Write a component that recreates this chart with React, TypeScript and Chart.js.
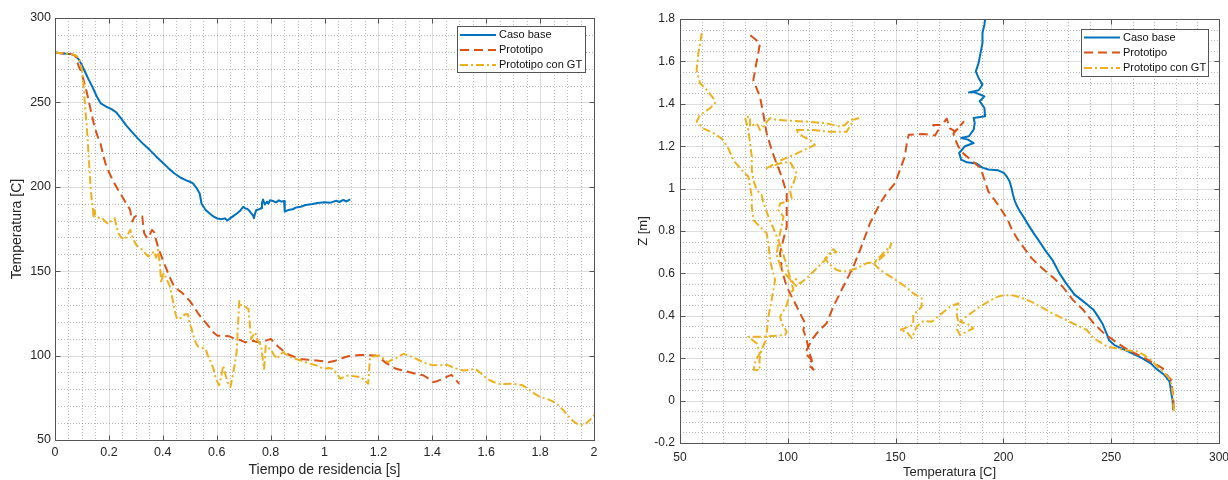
import React, { useEffect, useRef } from 'react';
import { Chart, registerables } from 'chart.js';

Chart.register(...registerables);

const FONT = "'Liberation Sans', Arial, Helvetica, sans-serif";
Chart.defaults.font.family = FONT;

// ---------- series meta ----------
const seriesNames = ['Caso base', 'Prototipo', 'Prototipo con GT'];
const seriesColors = ['#0072BD', '#D95319', '#EDB120'];
const seriesDashes = [[], [9, 5], [8, 3, 2, 3]];

// ---------- tick labels ----------
const leftXTickLabels = ['0', '0.2', '0.4', '0.6', '0.8', '1', '1.2', '1.4', '1.6', '1.8', '2'];
const leftYTickLabels = ['50', '100', '150', '200', '250', '300'];
const rightXTickLabels = ['50', '100', '150', '200', '250', '300'];
const rightYTickLabels = ['-0.2', '0', '0.2', '0.4', '0.6', '0.8', '1', '1.2', '1.4', '1.6', '1.8'];

// ---------- left chart: Temperatura vs Tiempo de residencia ----------
const leftBaseTime = [
  0, 0.03, 0.06, 0.074, 0.088,
  0.1, 0.11, 0.125, 0.14, 0.155,
  0.17, 0.19, 0.21, 0.228, 0.245,
  0.265, 0.285, 0.309, 0.33, 0.353,
  0.375, 0.397, 0.42, 0.441, 0.465,
  0.485, 0.5, 0.512, 0.522, 0.53,
  0.537, 0.544, 0.552, 0.559, 0.575,
  0.588, 0.603, 0.618, 0.63, 0.64,
  0.647, 0.66, 0.676, 0.688, 0.699,
  0.706, 0.713, 0.72, 0.728, 0.735,
  0.738, 0.742, 0.747, 0.755, 0.765,
  0.768, 0.772, 0.778, 0.787, 0.792,
  0.798, 0.809, 0.82, 0.831, 0.84,
  0.85, 0.852, 0.853, 0.865, 0.882,
  0.895, 0.912, 0.93, 0.956, 0.975,
  1.0, 1.02, 1.044, 1.055, 1.07,
  1.08, 1.096,
];
const leftBaseTemp = [
  279.5, 279, 278.6, 278, 275.5,
  272, 268.6, 263.5, 258.8, 253.5,
  249.4, 247.5, 246, 244, 240.5,
  236.3, 232.5, 228.4, 225, 221.6,
  218, 214.7, 211.2, 208.2, 205.5,
  204, 203, 202, 200, 198,
  196, 189.8, 188, 186.3, 184,
  182.4, 181.2, 180.8, 181.3, 180,
  181, 182.5, 184.3, 186, 188.2,
  187.2, 187, 186, 184.3, 183,
  181.4, 184, 186.3, 186.5, 187.3,
  190.5, 192.5, 189.5, 191.2, 190,
  192, 191.6, 190.8, 192, 191.2,
  191.6, 188, 185.3, 186.2, 186.7,
  187.8, 188.2, 189.2, 189.8, 190.4,
  190.8, 190.5, 191.8, 191, 192.2,
  191.3, 192.5,
];

const leftProtoTime = [
  0, 0.03, 0.06, 0.075, 0.081,
  0.088, 0.096, 0.103, 0.11, 0.118,
  0.125, 0.136, 0.147, 0.158, 0.169,
  0.18, 0.191, 0.205, 0.221, 0.235,
  0.25, 0.265, 0.279, 0.283, 0.287,
  0.294, 0.301, 0.315, 0.324, 0.327,
  0.331, 0.338, 0.346, 0.353, 0.36,
  0.368, 0.375, 0.383, 0.39, 0.397,
  0.404, 0.412, 0.419, 0.43, 0.441,
  0.456, 0.471, 0.485, 0.5, 0.515,
  0.529, 0.545, 0.559, 0.575, 0.588,
  0.603, 0.625, 0.647, 0.66, 0.676,
  0.69, 0.706, 0.72, 0.735, 0.75,
  0.765, 0.785, 0.801, 0.815, 0.831,
  0.845, 0.86, 0.885, 0.912, 0.94,
  0.971, 0.995, 1.015, 1.04, 1.059,
  1.075, 1.088, 1.11, 1.132, 1.16,
  1.191, 1.21, 1.228, 1.245, 1.265,
  1.295, 1.324, 1.345, 1.368, 1.385,
  1.404, 1.42, 1.441, 1.455, 1.471,
  1.485, 1.5,
];
const leftProtoTemp = [
  279.5, 279, 278.6, 277.8, 274.5,
  271.5, 268.6, 265, 260.8, 256,
  251, 243, 235.3, 230, 225.5,
  218, 211.8, 207, 202, 198,
  194, 190, 186.3, 182, 179.4,
  182, 182.7, 182.5, 182.4, 177,
  172.5, 170.5, 169.6, 172, 174.5,
  173, 168.6, 164, 160.8, 158,
  154.9, 152, 149, 145, 141.2,
  139, 137.3, 135, 132.4, 129,
  125.5, 122, 119.6, 116.5, 113.7,
  111.8, 111.6, 111.4, 110.5, 109.8,
  109, 107.8, 108.5, 108.8, 108,
  107.8, 109, 109.8, 107.5, 104.9,
  103, 101, 99.5, 98, 97.5,
  97.1, 96.6, 96.1, 97, 98,
  99, 99.6, 100, 100.4, 100.2,
  100, 98, 95.7, 94, 92.2,
  91, 89.8, 89, 88.2, 86.5,
  84.3, 85, 86.3, 87.5, 88.6,
  86, 83.3,
];

const leftGtTime = [
  0, 0.03, 0.06, 0.075, 0.088,
  0.096, 0.103, 0.107, 0.11, 0.114,
  0.118, 0.122, 0.125, 0.129, 0.132,
  0.136, 0.14, 0.143, 0.147, 0.15,
  0.154, 0.165, 0.176, 0.188, 0.199,
  0.21, 0.221, 0.228, 0.235, 0.246,
  0.257, 0.268, 0.279, 0.29, 0.301,
  0.313, 0.324, 0.335, 0.346, 0.357,
  0.368, 0.375, 0.382, 0.386, 0.39,
  0.394, 0.399, 0.404, 0.415, 0.426,
  0.433, 0.441, 0.447, 0.453, 0.462,
  0.471, 0.482, 0.493, 0.5, 0.507,
  0.515, 0.522, 0.53, 0.537, 0.548,
  0.559, 0.567, 0.574, 0.581, 0.588,
  0.594, 0.6, 0.609, 0.617, 0.624,
  0.632, 0.64, 0.651, 0.657, 0.662,
  0.668, 0.674, 0.679, 0.684, 0.69,
  0.699, 0.709, 0.718, 0.723, 0.728,
  0.735, 0.743, 0.752, 0.765, 0.77,
  0.776, 0.779, 0.782, 0.79, 0.801,
  0.812, 0.824, 0.835, 0.846, 0.86,
  0.875, 0.89, 0.912, 0.94, 0.971,
  0.985, 1.0, 1.015, 1.029, 1.045,
  1.059, 1.075, 1.088, 1.11, 1.132,
  1.148, 1.162, 1.165, 1.169, 1.185,
  1.206, 1.22, 1.235, 1.25, 1.265,
  1.28, 1.294, 1.32, 1.353, 1.375,
  1.397, 1.425, 1.456, 1.485, 1.515,
  1.535, 1.559, 1.58, 1.603, 1.625,
  1.647, 1.67, 1.691, 1.715, 1.735,
  1.758, 1.779, 1.8, 1.824, 1.845,
  1.868, 1.89, 1.912, 1.93, 1.949,
  1.96, 1.971, 1.985, 2.0,
];
const leftGtTemp = [
  279.5, 279, 278.6, 278, 276.5,
  272, 266.7, 258, 251, 243,
  235.3, 226, 217.6, 208, 200,
  193, 188.2, 181.4, 186.3, 183,
  182.4, 181.5, 181.4, 179, 178,
  180, 181.4, 177, 172.5, 170,
  168.6, 171, 174.5, 169, 165.7,
  164, 162.7, 160.5, 158.8, 160,
  161.8, 158, 162.7, 158, 152.9,
  143.1, 147, 149, 145, 141.2,
  136, 129.4, 125, 121.6, 122,
  122.5, 124.5, 124.5, 119, 115.7,
  111, 107.8, 105.5, 104.9, 104.5,
  103.9, 100, 98, 95, 92.2,
  88, 85.3, 82.4, 88, 94.1,
  89, 84.3, 81.4, 86, 90.2,
  96, 102, 118, 132.4, 130,
  129.4, 128.5, 127.5, 118, 109.8,
  112, 113.7, 109, 105.9, 99,
  92.2, 99, 105.9, 104.5, 103.9,
  100.5, 98, 100.5, 102, 100.5,
  99, 98.2, 97.1, 95.5, 94.1,
  93, 92.2, 92.6, 92.2, 89.5,
  86.3, 87.5, 88.2, 87.8, 87.3,
  85.5, 83.3, 90, 99, 99.6,
  100, 98, 96.1, 97.5, 98.4,
  100, 101, 99.5, 97.1, 95.5,
  94.5, 94.2, 94.5, 92.5, 91.2,
  91.5, 92.2, 89.5, 86.3, 84.5,
  83.3, 83.2, 83.3, 83, 82.4,
  80, 77.5, 75.5, 74.5, 73,
  70.6, 67, 62.7, 60.2, 58.8,
  59, 59.8, 62, 64.7,
];

// ---------- right chart: Z vs Temperatura ----------
const rightBaseTemp = [
  278.7, 278.5, 277.9, 277.1, 274.7,
  270.7, 268.3, 264.3, 260, 256.3,
  251.5, 249, 248.3, 247.3, 245.9,
  244, 241.9, 239, 236.3, 233,
  229.1, 226, 222.7, 220, 216.2,
  214, 211.5, 209.2, 207.5, 206.2,
  205.2, 204.5, 203.8, 202.9, 201.5,
  200.2, 197.5, 193, 190, 187.6,
  183.1, 180.4, 179.5, 182.2, 186.2,
  183.6, 180.4, 184, 186.2, 186.7,
  186.2, 191.5, 191.2, 189, 191.2,
  186.7, 184, 188.5, 190.3, 188.5,
  187.2, 188.5, 189.4, 190.3, 190.3,
  191.2, 191.5,
];
const rightBaseZ = [
  -0.044, 0.0, 0.034, 0.089, 0.121,
  0.152, 0.176, 0.2, 0.222, 0.239,
  0.262, 0.285, 0.305, 0.33, 0.364,
  0.395, 0.427, 0.452, 0.474, 0.5,
  0.553, 0.6, 0.664, 0.7, 0.758,
  0.79, 0.83, 0.869, 0.895, 0.92,
  0.945, 0.97, 1.0, 1.034, 1.058,
  1.074, 1.086, 1.09, 1.1, 1.118,
  1.124, 1.137, 1.168, 1.2, 1.215,
  1.231, 1.239, 1.247, 1.278, 1.309,
  1.333, 1.341, 1.38, 1.412, 1.435,
  1.454, 1.454, 1.464, 1.49, 1.522,
  1.553, 1.592, 1.64, 1.687, 1.734,
  1.773, 1.8,
];

const rightProtoTemp = [
  279, 278.7, 277.6, 275.5, 273.9,
  271, 267.5, 262.5, 257.8, 253.1,
  246.7, 241.9, 237.1, 232.3, 227.5,
  222.7, 218, 213.1, 206.8, 204,
  202, 197.5, 193, 191.2, 189.4,
  184.9, 181.5, 179, 177.7, 176.8,
  179.5, 181.5, 177.6, 175.2, 173.7,
  171.4, 167.5, 169.8, 168.3, 163,
  156.1, 155.2, 154.3, 152, 149.8,
  146, 142.8, 138.1, 133.5, 130.4,
  125.7, 121.1, 118, 113.4, 111.1,
  108, 110.4, 111.8, 110.5, 112,
  110.3, 111.1, 109.6, 108.8, 107.2,
  108, 105.7, 102.6, 99.5, 97.2,
  96.4, 97.9, 99.5, 99.5, 99.5,
  97.2, 94.8, 92.5, 90.2, 88.6,
  87.1, 84, 84.8, 86.3, 87.1,
  82.5,
];
const rightProtoZ = [
  -0.04, 0.03, 0.1, 0.125, 0.152,
  0.17, 0.19, 0.215, 0.239, 0.27,
  0.317, 0.364, 0.427, 0.474, 0.537,
  0.584, 0.624, 0.671, 0.758, 0.805,
  0.853, 0.924, 0.987, 1.042, 1.097,
  1.136, 1.165, 1.2, 1.231, 1.26,
  1.29, 1.315, 1.27, 1.284, 1.33,
  1.3, 1.3, 1.276, 1.25, 1.258,
  1.254, 1.215, 1.152, 1.088, 1.026,
  0.98, 0.931, 0.836, 0.71, 0.632,
  0.537, 0.443, 0.365, 0.317, 0.286,
  0.223, 0.2, 0.176, 0.16, 0.146,
  0.17, 0.192, 0.239, 0.286, 0.333,
  0.365, 0.412, 0.475, 0.537, 0.616,
  0.695, 0.758, 0.82, 0.9, 0.978,
  1.056, 1.119, 1.182, 1.261, 1.355,
  1.433, 1.512, 1.559, 1.638, 1.685,
  1.725,
];

const rightGtTemp = [
  279, 278.6, 277.6, 276.4, 272,
  267.5, 262.7, 256.3, 248.3, 241.9,
  238.7, 230.7, 222.7, 213.1, 207,
  203.5, 199, 195.5, 189.1, 182.7,
  179.9, 184.5, 186, 179.9, 178.5,
  179.1, 178.3, 179.1, 175.2, 170.6,
  166.7, 162.8, 159.8, 157.5, 155.2,
  152, 158.2, 158.2, 162.1, 162.1,
  158.2, 153.6, 148.9, 142.8, 139.7,
  144.3, 147.4, 148, 146.5, 141.2,
  136.6, 132, 129.6, 125.8, 122.7,
  118.8, 117.3, 121.1, 122.5, 119.5,
  117, 111.8, 108.8, 105.7, 103.5,
  102, 104, 97.2, 94.8, 95.6,
  96.4, 98, 95.6, 96.4, 99.5,
  101.8, 101, 102.6, 104.1, 101,
  96.4, 90.2, 96, 104, 112.6,
  110.3, 107.2, 103.4, 111.8, 119.6,
  127.3, 130.4, 132.7, 128.8, 126.5,
  124.2, 118, 108.8, 101, 94.8,
  91.7, 87.1, 85.6, 82.5, 82.5,
  80.1, 81.7, 82.5, 83.3, 83.3,
  84, 85.6, 87.9, 88.6, 91,
  93, 97, 100, 102.6, 101,
  99.5, 96.4, 97.2, 99.5, 98.7,
  88.6, 81.7, 85.6, 87.1, 85,
  84.2, 86.9, 86.9, 87.8, 89.6,
  90.2, 91, 92.5, 93.3, 94.1,
  91.7, 91, 90.2, 87.1, 84,
  83.3, 83.3, 82.5, 81.7, 78.6,
  74.7, 72.4, 69.3, 65.5, 60.8,
  57.7, 59.3, 63.9, 66.2, 65.5,
  62.4, 59.3, 57.7, 58.5, 60.1,
];
const rightGtZ = [
  -0.05, 0.03, 0.09, 0.112, 0.155,
  0.2, 0.231, 0.239, 0.254, 0.294,
  0.333, 0.372, 0.412, 0.466, 0.49,
  0.498, 0.495, 0.482, 0.443, 0.396,
  0.372, 0.357, 0.341, 0.309, 0.335,
  0.365, 0.412, 0.459, 0.443, 0.404,
  0.372, 0.375, 0.349, 0.294, 0.325,
  0.333, 0.357, 0.404, 0.443, 0.482,
  0.506, 0.545, 0.577, 0.616, 0.648,
  0.695, 0.726, 0.74, 0.7, 0.655,
  0.648, 0.624, 0.616, 0.608, 0.616,
  0.648, 0.671, 0.714, 0.7, 0.69,
  0.66, 0.608, 0.577, 0.553, 0.575,
  0.56, 0.54, 0.616, 0.687, 0.742,
  0.789, 0.867, 0.899, 0.93, 0.938,
  0.954, 0.993, 1.025, 1.072, 1.127,
  1.119, 1.096, 1.13, 1.165, 1.206,
  1.229, 1.245, 1.276, 1.276, 1.268,
  1.268, 1.324, 1.332, 1.324, 1.3,
  1.292, 1.308, 1.316, 1.32, 1.324,
  1.332, 1.276, 1.308, 1.292, 1.339,
  1.339, 1.276, 1.214, 1.15, 1.088,
  1.04, 0.993, 0.97, 0.938, 0.867,
  0.82, 0.72, 0.62, 0.522, 0.506,
  0.451, 0.396, 0.365, 0.325, 0.309,
  0.301, 0.301, 0.27, 0.223, 0.19,
  0.146, 0.143, 0.193, 0.24, 0.28,
  0.317, 0.396, 0.475, 0.522, 0.569,
  0.663, 0.742, 0.789, 0.82, 0.852,
  0.915, 0.962, 1.009, 1.056, 1.088,
  1.135, 1.19, 1.237, 1.261, 1.284,
  1.316, 1.347, 1.379, 1.402, 1.426,
  1.465, 1.497, 1.559, 1.638, 1.733,
];

// ---------- helpers ----------
const toPoints = (xs: number[], ys: number[]) =>
  xs.slice(0, Math.min(xs.length, ys.length)).map((x, i) => ({ x, y: ys[i] }));

const labelFor = (labels: string[], min: number, step: number) => (v: any) => {
  const k = Math.round((Number(v) - min) / step);
  return labels[k] !== undefined ? labels[k] : '';
};

const matlabAxesPlugin = {
  id: 'matlabAxes',
  beforeDatasetsDraw(chart: any, _args: any, o: any) {
    const { ctx, chartArea: a } = chart;
    const xs = chart.scales.x;
    const ys = chart.scales.y;
    ctx.save();
    ctx.lineWidth = 1;
    const vLine = (v: number) => {
      const X = Math.round(xs.getPixelForValue(v)) + 0.5;
      ctx.beginPath();
      ctx.moveTo(X, a.top);
      ctx.lineTo(X, a.bottom);
      ctx.stroke();
    };
    const hLine = (v: number) => {
      const Y = Math.round(ys.getPixelForValue(v)) + 0.5;
      ctx.beginPath();
      ctx.moveTo(a.left, Y);
      ctx.lineTo(a.right, Y);
      ctx.stroke();
    };
    const minorVals = (s: any, step: number, majorStep: number) => {
      const out: number[] = [];
      const n = Math.round((s.max - s.min) / step);
      for (let i = 1; i < n; i++) {
        const v = s.min + i * step;
        const r = (v - s.min) / majorStep;
        if (Math.abs(r - Math.round(r)) > 1e-6) out.push(v);
      }
      return out;
    };
    ctx.strokeStyle = o.minorColor;
    ctx.setLineDash([1, 2]);
    minorVals(xs, o.xMinor, o.xMajor).forEach(vLine);
    minorVals(ys, o.yMinor, o.yMajor).forEach(hLine);
    ctx.setLineDash([]);
    ctx.strokeStyle = o.majorColor;
    xs.ticks.forEach((t: any) => {
      if (t.value > xs.min + 1e-9 && t.value < xs.max - 1e-9) vLine(t.value);
    });
    ys.ticks.forEach((t: any) => {
      if (t.value > ys.min + 1e-9 && t.value < ys.max - 1e-9) hLine(t.value);
    });
    ctx.restore();
  },
  afterDatasetsDraw(chart: any, _args: any, o: any) {
    const { ctx, chartArea: a } = chart;
    const xs = chart.scales.x;
    const ys = chart.scales.y;
    ctx.save();
    const L = Math.round(a.left) + 0.5;
    const R = Math.round(a.right) + 0.5;
    const T = Math.round(a.top) + 0.5;
    const B = Math.round(a.bottom) + 0.5;
    ctx.strokeStyle = o.boxColor;
    ctx.lineWidth = 1;
    ctx.setLineDash([]);
    ctx.strokeRect(L, T, R - L, B - T);
    const tl = o.tickLen;
    ctx.beginPath();
    xs.ticks.forEach((t: any) => {
      const X = Math.round(xs.getPixelForValue(t.value)) + 0.5;
      ctx.moveTo(X, B);
      ctx.lineTo(X, B - tl);
      ctx.moveTo(X, T);
      ctx.lineTo(X, T + tl);
    });
    ys.ticks.forEach((t: any) => {
      const Y = Math.round(ys.getPixelForValue(t.value)) + 0.5;
      ctx.moveTo(L, Y);
      ctx.lineTo(L + tl, Y);
      ctx.moveTo(R, Y);
      ctx.lineTo(R - tl, Y);
    });
    ctx.stroke();

    // legend
    const lg = o.legend;
    ctx.fillStyle = '#ffffff';
    ctx.fillRect(lg.left, lg.top, lg.width, lg.height);
    ctx.strokeStyle = o.boxColor;
    ctx.lineWidth = 1;
    ctx.strokeRect(lg.left + 0.5, lg.top + 0.5, lg.width, lg.height);
    chart.data.datasets.forEach((ds: any, i: number) => {
      const y = lg.rows[i];
      ctx.save();
      ctx.strokeStyle = ds.borderColor;
      ctx.lineWidth = ds.borderWidth;
      ctx.setLineDash(ds.borderDash || []);
      ctx.beginPath();
      ctx.moveTo(lg.x0, y);
      ctx.lineTo(lg.x1, y);
      ctx.stroke();
      ctx.restore();
      ctx.fillStyle = '#111111';
      ctx.font = `${lg.fontSize}px ${FONT}`;
      ctx.textBaseline = 'middle';
      ctx.textAlign = 'left';
      ctx.fillText(ds.label, lg.textX, y);
    });
    ctx.restore();
  },
};

function makeConfig(p: any) {
  const tickColor = '#262626';
  return {
    type: 'scatter',
    data: {
      datasets: p.series.map((s: any, i: number) => ({
        label: seriesNames[i],
        data: s,
        showLine: true,
        borderColor: seriesColors[i],
        backgroundColor: seriesColors[i],
        borderWidth: 2,
        borderDash: seriesDashes[i],
        borderJoinStyle: 'round',
        pointRadius: 0,
        pointHoverRadius: 0,
        tension: 0,
        order: 2 - i,
      })),
    },
    options: {
      responsive: false,
      animation: false,
      devicePixelRatio: 1,
      events: [],
      layout: { padding: p.padding, autoPadding: false },
      scales: {
        x: {
          type: 'linear',
          min: p.x.min,
          max: p.x.max,
          grid: { display: false, drawTicks: false },
          border: { display: false },
          ticks: {
            stepSize: p.x.step,
            autoSkip: false,
            maxRotation: 0,
            padding: p.x.tickPad,
            color: tickColor,
            font: { size: p.tickFont },
            callback: labelFor(p.x.labels, p.x.min, p.x.step),
          },
          title: {
            display: true,
            text: p.x.title,
            color: tickColor,
            font: { size: p.x.titleFont },
            padding: { top: 0, bottom: p.x.titlePad },
          },
          afterFit: (s: any) => {
            s.height = p.x.height;
          },
        },
        y: {
          type: 'linear',
          min: p.y.min,
          max: p.y.max,
          grid: { display: false, drawTicks: false },
          border: { display: false },
          ticks: {
            stepSize: p.y.step,
            autoSkip: false,
            padding: p.y.tickPad,
            color: tickColor,
            font: { size: p.tickFont },
            callback: labelFor(p.y.labels, p.y.min, p.y.step),
          },
          title: {
            display: true,
            text: p.y.title,
            color: tickColor,
            font: { size: p.y.titleFont },
            padding: { top: p.y.titlePad, bottom: 0 },
          },
          afterFit: (s: any) => {
            s.width = p.y.width;
          },
        },
      },
      plugins: {
        legend: { display: false },
        tooltip: { enabled: false },
        matlabAxes: {
          minorColor: 'rgba(0,0,0,0.28)',
          majorColor: 'rgba(0,0,0,0.13)',
          boxColor: '#555555',
          tickLen: 5,
          xMinor: p.x.minor,
          xMajor: p.x.step,
          yMinor: p.y.minor,
          yMajor: p.y.step,
          legend: p.legend,
        },
      },
    },
    plugins: [matlabAxesPlugin],
  };
}

export default function App() {
  const leftRef = useRef<HTMLCanvasElement>(null);
  const rightRef = useRef<HTMLCanvasElement>(null);

  useEffect(() => {
    const leftCfg = makeConfig({
      series: [
        toPoints(leftBaseTime, leftBaseTemp),
        toPoints(leftProtoTime, leftProtoTemp),
        toPoints(leftGtTime, leftGtTemp),
      ],
      padding: { left: 0, top: 18, right: 20, bottom: 0 },
      tickFont: 12.5,
      x: {
        min: 0, max: 2, step: 0.2, minor: 0.05, labels: leftXTickLabels,
        title: 'Tiempo de residencia [s]', titleFont: 14, titlePad: 1, tickPad: 5, height: 40,
      },
      y: {
        min: 50, max: 300, step: 50, minor: 10, labels: leftYTickLabels,
        title: 'Temperatura [C]', titleFont: 14, titlePad: 9, tickPad: 4, width: 55,
      },
      legend: {
        left: 457, top: 26, width: 128, height: 46,
        rows: [35, 50, 65], x0: 460, x1: 496, textX: 499, fontSize: 11,
      },
    });
    const rightCfg = makeConfig({
      series: [
        toPoints(rightBaseTemp, rightBaseZ),
        toPoints(rightProtoTemp, rightProtoZ),
        toPoints(rightGtTemp, rightGtZ),
      ],
      padding: { left: 0, top: 19, right: 35, bottom: 0 },
      tickFont: 12,
      x: {
        min: 50, max: 300, step: 50, minor: 10, labels: rightXTickLabels,
        title: 'Temperatura [C]', titleFont: 13, titlePad: 0, tickPad: 7, height: 37,
      },
      y: {
        min: -0.2, max: 1.8, step: 0.2, minor: 0.05, labels: rightYTickLabels,
        title: 'Z [m]', titleFont: 13, titlePad: 22, tickPad: 5, width: 66,
      },
      legend: {
        left: 467, top: 29, width: 127, height: 47,
        rows: [37.5, 52.5, 68], x0: 470, x1: 506, textX: 509, fontSize: 11,
      },
    });
    const c1 = new Chart(leftRef.current as HTMLCanvasElement, leftCfg as any);
    const c2 = new Chart(rightRef.current as HTMLCanvasElement, rightCfg as any);
    return () => {
      c1.destroy();
      c2.destroy();
    };
  }, []);

  return (
    <div style={{ position: 'absolute', left: 0, top: 0, width: 1228, height: 480, overflow: 'hidden', background: '#fff' }}>
      <canvas ref={leftRef} width={614} height={480} style={{ position: 'absolute', left: 0, top: 0 }} />
      <canvas ref={rightRef} width={640} height={480} style={{ position: 'absolute', left: 614, top: 0 }} />
    </div>
  );
}
